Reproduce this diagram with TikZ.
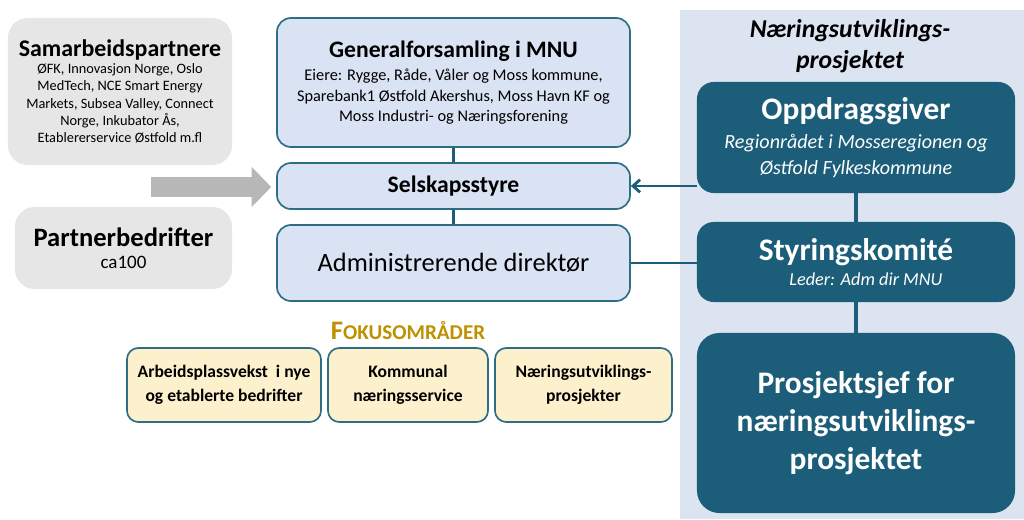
\documentclass[tikz,border=0pt]{standalone}
\usepackage{fontspec}
\setmainfont{Carlito}
\usepackage{tikz}
\usetikzlibrary{arrows.meta, positioning, backgrounds}

\definecolor{mnuteal}{HTML}{1C5D7A}
\definecolor{mnuedge}{HTML}{2E6E84}
\definecolor{mnulight}{HTML}{DAE3F3}
\definecolor{mnupanel}{HTML}{DCE4F2}
\definecolor{mnugray}{HTML}{E6E6E6}
\definecolor{mnuarrow}{HTML}{B7B7B7}
\definecolor{mnuyellow}{HTML}{FDF0CC}
\definecolor{mnugold}{HTML}{BF9000}

\begin{document}
\begin{tikzpicture}[
    x=0.025cm, y=-0.025cm,
    lightbox/.style={rectangle, rounded corners=10pt, draw=mnuedge, line width=1.2pt, fill=mnulight, align=center, minimum width=8.825cm},
    darkbox/.style={rectangle, rounded corners=12pt, fill=mnuteal, text=white, align=center, minimum width=7.95cm},
    graybox/.style={rectangle, rounded corners=14pt, fill=mnugray, align=center},
    fokbox/.style={rectangle, rounded corners=8pt, draw=mnuedge, line width=1.2pt, fill=mnuyellow, align=center, minimum height=1.85cm, font=\fontsize{12.5}{17}\selectfont\bfseries},
    link/.style={mnuteal, line width=2.2pt},
    partarrow/.style={-{Triangle[width=28pt,length=14pt]}, mnuarrow, line width=14pt}
  ]

  \useasboundingbox (0,0) rectangle (1024,519);

  % Right panel
  \fill[mnupanel] (680,10) rectangle (1024,519);
  \node[font=\fontsize{18.3}{22.5}\selectfont\bfseries\itshape, align=center] (panelhead) at (850,46)
    {Næringsutviklings-\\prosjektet};

  \node[darkbox, minimum height=2.775cm, font=\fontsize{14.3}{17.8}\selectfont\itshape] (oppdrag) at (856,137.5)
    {{\fontsize{22.3}{25}\selectfont\bfseries\upshape Oppdragsgiver}\\[3pt]
     Regionrådet i Mosseregionen og\\Østfold Fylkeskommune};
  \node[darkbox, minimum height=2cm, font=\fontsize{13}{16}\selectfont\itshape] (styring) at (856,262)
    {{\fontsize{22.3}{25}\selectfont\bfseries\upshape Styringskomité}\\[2pt]
     \hspace*{14pt}Leder: Adm dir MNU};
  \node[darkbox, rounded corners=16pt, minimum height=4.5cm, font=\fontsize{22.3}{27}\selectfont\bfseries] (prosjekt) at (856,423)
    {Prosjektsjef for\\næringsutviklings-\\prosjektet};

  % Middle column
  \node[lightbox, minimum height=3.225cm, font=\fontsize{11.6}{14.6}\selectfont] (gf) at (453.5,82.5)
    {{\fontsize{16.8}{19}\selectfont\bfseries Generalforsamling i MNU}\\[2pt]
     Eiere: Rygge, Råde, Våler og Moss kommune,\\
     Sparebank1 Østfold Akershus, Moss Havn KF og\\
     Moss Industri- og Næringsforening};
  \node[lightbox, minimum height=1.15cm, font=\fontsize{16.8}{19}\selectfont\bfseries] (styre) at (453.5,186) {Selskapsstyre};
  \node[lightbox, minimum height=1.9cm, font=\fontsize{18.8}{22}\selectfont] (adm) at (453.5,263) {Administrerende direktør};

  % Left column
  \node[graybox, minimum width=5.6cm, minimum height=3.675cm, font=\fontsize{10.2}{12.3}\selectfont] (samarb) at (120,91.5)
    {{\fontsize{17}{19.5}\selectfont\bfseries Samarbeidspartnere}\\
     ØFK, Innovasjon Norge, Oslo\\
     MedTech, NCE Smart Energy\\
     Markets, Subsea Valley, Connect\\
     Norge, Inkubator Ås,\\
     Etablererservice Østfold m.fl};
  \node[graybox, minimum width=5.425cm, minimum height=2.05cm, font=\fontsize{13.5}{16}\selectfont] (partner) at (123.5,248)
    {{\fontsize{18.9}{21}\selectfont\bfseries Partnerbedrifter}\\
     ca100};
  \coordinate (arrtail) at (151,187);

  % Fokusomraader
  \node[text=mnugold, font=\bfseries] (fokhead) at (408,331)
    {{\fontsize{19}{21}\selectfont F}{\fontsize{15}{21}\selectfont OKUSOMRÅDER}};
  \node[fokbox, minimum width=4.85cm] (fok1) at (224,385) {Arbeidsplassvekst\ \ i nye\\og etablerte bedrifter};
  \node[fokbox, minimum width=4cm] (fok2) at (408,385) {Kommunal\\næringsservice};
  \node[fokbox, minimum width=4.425cm] (fok3) at (583.5,385) {Næringsutviklings-\\prosjekter};

  % Connectors
  \draw[link] (gf) -- (styre);
  \draw[link] (styre) -- (adm);
  \draw[link] (oppdrag) -- (styring);
  \draw[link] (styring) -- (prosjekt);
  \draw[link, line width=2pt, {Straight Barb[length=5pt,width=9pt]}-] (styre.east) -- (styre.east -| oppdrag.west);
  \draw[link, line width=2pt] (adm.east) -- (adm.east -| styring.west);
  \draw[partarrow, shorten >=3.5pt] (arrtail) -- (arrtail -| styre.west);

\end{tikzpicture}
\end{document}
